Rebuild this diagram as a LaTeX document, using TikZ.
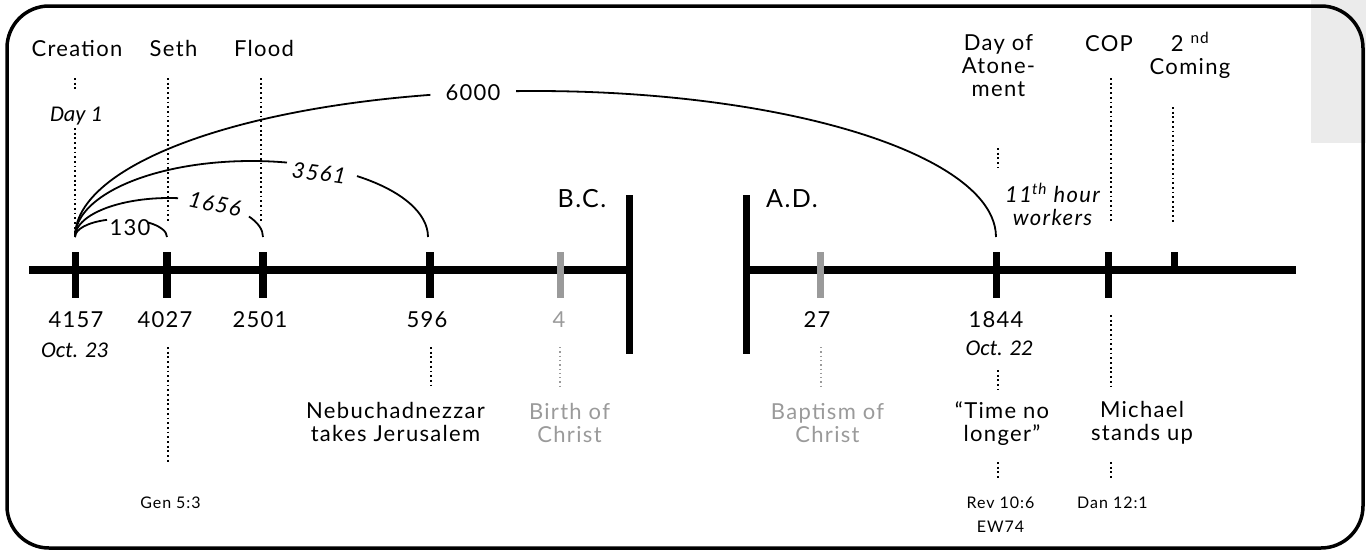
\documentclass[tikz,border=0pt]{standalone}
\usepackage{fontspec}
\setmainfont{Lato}[LetterSpace=6]
\newfontfamily\myr{Carlito}
\usetikzlibrary{calc}
\definecolor{tlgrey}{HTML}{9A9A9A}
\definecolor{panel}{HTML}{EBEBEB}
\begin{document}
\begin{tikzpicture}[x=1pt,y=-1pt,
  every node/.style={inner sep=0pt, outer sep=0pt},
  lbl/.style={font=\fontsize{22}{23}\selectfont, anchor=base, align=center},
  ilbl/.style={font=\fontsize{22}{23}\selectfont\itshape, align=center},
  myrlbl/.style={font=\myr\fontsize{22.5}{24}\selectfont\itshape, anchor=base},
  small/.style={font=\fontsize{16}{24}\selectfont, anchor=base, align=center},
  big/.style={font=\fontsize{25}{28}\selectfont, anchor=base},
  greytxt/.style={text=tlgrey},
  axisline/.style={line width=8pt},
  tickmark/.style={line width=7.5pt},
  gtickmark/.style={line width=7.5pt, draw=tlgrey},
  erabar/.style={line width=7.5pt},
  dots/.style={line width=1.8pt, dash pattern=on 1.8pt off 2.9pt},
  gdots/.style={line width=1.3pt, dash pattern=on 1.3pt off 3pt, draw=tlgrey},
  spanarc/.style={line width=1.8pt},
]
\useasboundingbox (0,0) rectangle (1366,552);
\fill[panel] (1311,0) rectangle (1366,143);
\draw[line width=3.5pt, rounded corners=42pt] (7,6) rectangle (1363,548);

% axis
\coordinate (L0) at (29,270);
\coordinate (bcA) at (629.5,270);
\coordinate (adA) at (746.5,270);
\coordinate (R0) at (1296,270);
\draw[axisline] (L0) -- (bcA);
\draw[axisline] (adA) -- (R0);
\coordinate (bcT) at (629.5,195); \coordinate (bcB) at (629.5,354);
\coordinate (adT) at (746.5,195); \coordinate (adB) at (746.5,354);
\draw[erabar] (bcT) -- (bcB);
\draw[erabar] (adT) -- (adB);

% ticks
\foreach \n/\x in {cre/75.5, set/167, flo/263, neb/430, dat/996.5, cop/1108.5}{
  \coordinate (\n T) at (\x,252); \coordinate (\n B) at (\x,298);
  \draw[tickmark] (\n T) -- (\n B);
}
\foreach \n/\x in {bir/560.5, bap/820.5}{
  \coordinate (\n T) at (\x,252); \coordinate (\n B) at (\x,298);
  \draw[gtickmark] (\n T) -- (\n B);
}
\coordinate (secT) at (1174.5,252); \coordinate (secB) at (1174.5,274);
\draw[tickmark] (secT) -- (secB);

% era labels
\node[big] (bc) at (582,207) {B.C.};
\node[big] (ad) at (792,207) {A.D.};

% top labels
\node[lbl] (creation) at (77,56) {Creation};
\node[lbl] (seth) at (173.5,56) {Seth};
\node[lbl] (flood) at (264,56) {Flood};
\node[myrlbl] (day1) at (76,121) {Day 1};
\node[lbl] (atone) at (998.5,96) {Day of\\Atone-\\ment};
\node[lbl] (copl) at (1109,51) {COP};
\node[lbl] (second) at (1190,74) {2 \textsuperscript{nd}\\Coming};
\node[ilbl, anchor=base] (eleventh) at (1052.5,225) {11\textsuperscript{th} hour\\workers};

% top dotted lines
\draw[dots] (75,78) -- (75,92);
\draw[dots] (75,128) -- (75,235);
\draw[dots] (168,78) -- (168,222);
\draw[dots] (261,78) -- (261,222);
\draw[dots] (998,148) -- (998,168);
\draw[dots] (1111,78) -- (1111,222);
\draw[dots] (1173,107) -- (1173,222);

% spans
\coordinate (e6000) at (535.5,237);
\coordinate (e3561) at (251.5,237);
\coordinate (e1656) at (169,237);
\coordinate (e130) at (121,237);
\coordinate (S) at (75,237);
\draw[spanarc] (S) arc[start angle=180, end angle=103.2, x radius=460.5pt, y radius=146pt];
\draw[spanarc] ($(e6000)+(92.4:460.5pt and 146pt)$) arc[start angle=92.4, end angle=0, x radius=460.5pt, y radius=146pt];
\draw[spanarc] (S) arc[start angle=180, end angle=78.4, x radius=176.5pt, y radius=76pt];
\draw[spanarc] ($(e3561)+(53.3:176.5pt and 76pt)$) arc[start angle=53.3, end angle=0, x radius=176.5pt, y radius=76pt];
\draw[spanarc] (S) arc[start angle=180, end angle=84.5, x radius=94pt, y radius=39pt];
\draw[spanarc] ($(e1656)+(31.7:94pt and 39pt)$) arc[start angle=31.7, end angle=0, x radius=94pt, y radius=39pt];
\draw[spanarc] (S) arc[start angle=180, end angle=107.7, x radius=46pt, y radius=18pt];
\draw[spanarc] ($(e130)+(54:46pt and 18pt)$) arc[start angle=54, end angle=0, x radius=46pt, y radius=18pt];
\node[lbl] (n6000) at (473,100) {6000};
\node[ilbl, rotate=-8] (n3561) at (319,173) {3561};
\node[ilbl, rotate=-12] (n1656) at (215,204) {1656};
\node[lbl] (n130) at (130,235) {130};

% numbers
\node[lbl] (y4157) at (76,327) {4157};
\node[myrlbl] (oct23) at (74.5,357) {Oct. 23};
\node[lbl] (y4027) at (165,327) {4027};
\node[lbl] (y2501) at (260,327) {2501};
\node[lbl] (y596) at (427,327) {596};
\node[lbl, greytxt] (y4) at (559,327) {4};
\node[lbl] (y27) at (817,327) {27};
\node[lbl] (y1844) at (996,327) {1844};
\node[myrlbl] (oct22) at (999,355) {Oct. 22};

% bottom labels
\node[lbl] (nebl) at (395.5,441) {Nebuchadnezzar\\takes Jerusalem};
\node[lbl, greytxt] (birl) at (569.5,442) {Birth of\\Christ};
\node[lbl, greytxt] (bapl) at (827.5,442) {Baptism of\\Christ};
\node[lbl] (timel) at (1002,441) {“Time no\\longer”};
\node[lbl] (mich) at (1142,440) {Michael\\stands up};
\node[small] (gen) at (170.5,508) {Gen 5:3};
\node[small] (rev) at (1000.5,508) {Rev 10:6};
\node[small] (ew) at (1000.5,532) {EW74};
\node[small] (dan) at (1112.5,508) {Dan 12:1};

% bottom dotted lines
\draw[dots] (168,347) -- (168,464);
\draw[dots] (431,347) -- (431,388);
\draw[gdots] (560,347) -- (560,388);
\draw[gdots] (821,347) -- (821,388);
\draw[dots] (998,370) -- (998,390);
\draw[dots] (1111,315) -- (1111,390);
\draw[dots] (998,462) -- (998,480);
\draw[dots] (1111,462) -- (1111,480);
\end{tikzpicture}
\end{document}
